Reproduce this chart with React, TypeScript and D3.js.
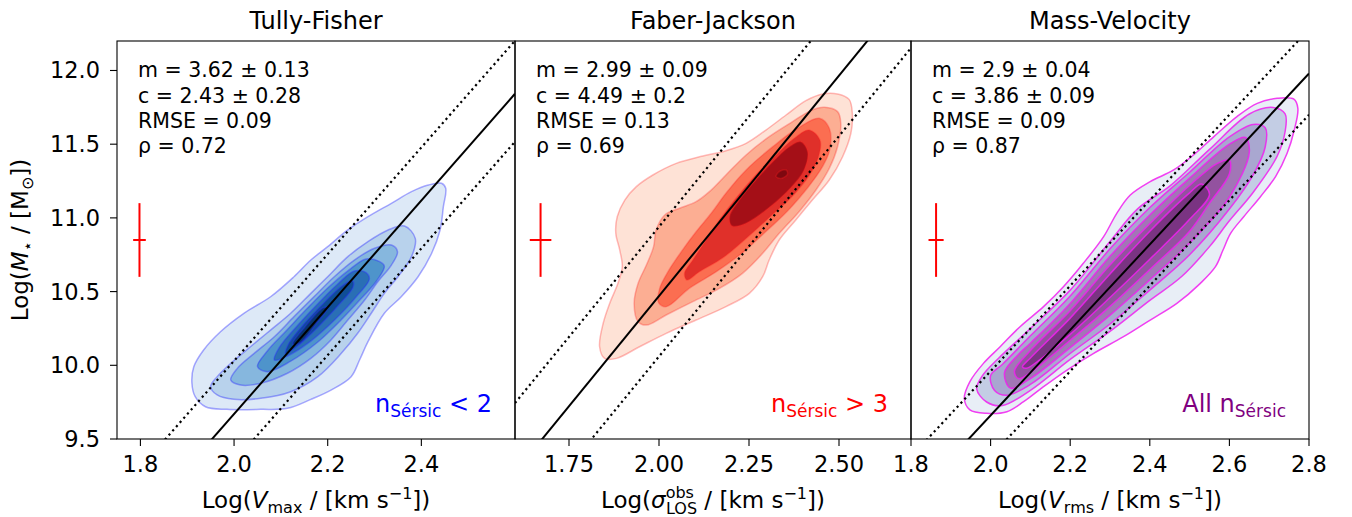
import React from 'react';
import * as d3 from 'd3';

// ---------------- data ----------------
const panelTitles = ['Tully-Fisher', 'Faber-Jackson', 'Mass-Velocity'];
const xDomains: [number, number][] = [[1.75, 2.6], [1.6, 2.7], [1.8, 2.8]];
const yDomain: [number, number] = [9.5, 12.2];
const xTickValues = [[1.8, 2.0, 2.2, 2.4], [1.75, 2.0, 2.25, 2.5], [1.8, 2.0, 2.2, 2.4, 2.6, 2.8]];
const xTickFormats = ['.1f', '.2f', '.1f'];
const yTickValues = [9.5, 10.0, 10.5, 11.0, 11.5, 12.0];

const fitSlopes = [3.62, 2.99, 2.9];
const fitIntercepts = [2.43, 4.49, 3.86];
const scatterUpper = [0.36, 0.47, 0.3];
const scatterLower = [-0.325, -0.41, -0.28];

const statsText = [
  ['m = 3.62 ± 0.13', 'c = 2.43 ± 0.28', 'RMSE = 0.09', 'ρ = 0.72'],
  ['m = 2.99 ± 0.09', 'c = 4.49 ± 0.2', 'RMSE = 0.13', 'ρ = 0.69'],
  ['m = 2.9 ± 0.04', 'c = 3.86 ± 0.09', 'RMSE = 0.09', 'ρ = 0.87'],
];

const errCentreX = [1.798, 1.671, 1.863];
const errCentreY = [10.85, 10.85, 10.85];
const errHalfX = [0.0135, 0.03, 0.019];
const errHalfY = [0.25, 0.25, 0.25];

const sampleLabelPrefix = ['', '', 'All '];
const sampleLabelSuffix = [' < 2', ' > 3', ''];
const sampleLabelColors = ['#0000ff', '#ff0000', '#800080'];

// KDE contour rings (outer -> inner), [log v, log M*]
const tfContours: number[][][] = [
  [[1.910, 9.878], [1.917, 9.787], [1.939, 9.719], [1.985, 9.701], [2.057, 9.701], [2.114, 9.708], [2.164, 9.769], [2.207, 9.832], [2.250, 9.923], [2.268, 10.036], [2.286, 10.160], [2.321, 10.353], [2.357, 10.465], [2.393, 10.601], [2.422, 10.760], [2.440, 10.918], [2.447, 11.076], [2.452, 11.201], [2.443, 11.235], [2.415, 11.223], [2.379, 11.178], [2.336, 11.099], [2.286, 11.008], [2.243, 10.918], [2.200, 10.805], [2.164, 10.714], [2.128, 10.601], [2.078, 10.465], [2.021, 10.353], [1.971, 10.228], [1.935, 10.104], [1.914, 9.990]],
  [[2.364, 10.945], [2.387, 10.861], [2.379, 10.737], [2.350, 10.601], [2.321, 10.488], [2.293, 10.353], [2.264, 10.217], [2.229, 10.081], [2.179, 9.923], [2.121, 9.821], [2.057, 9.776], [2.000, 9.769], [1.964, 9.799], [1.950, 9.855], [1.964, 9.923], [1.993, 10.013], [2.035, 10.126], [2.078, 10.239], [2.121, 10.353], [2.164, 10.488], [2.200, 10.601], [2.243, 10.737], [2.286, 10.839], [2.329, 10.918]],
  [[2.336, 10.816], [2.349, 10.771], [2.336, 10.680], [2.307, 10.567], [2.279, 10.443], [2.243, 10.307], [2.207, 10.172], [2.164, 10.047], [2.114, 9.946], [2.057, 9.878], [2.014, 9.866], [1.993, 9.900], [2.007, 9.979], [2.043, 10.081], [2.086, 10.194], [2.128, 10.330], [2.171, 10.466], [2.214, 10.601], [2.257, 10.714], [2.300, 10.794]],
  [[2.311, 10.703], [2.321, 10.672], [2.304, 10.570], [2.271, 10.451], [2.229, 10.309], [2.179, 10.158], [2.121, 10.028], [2.071, 9.957], [2.050, 9.991], [2.071, 10.097], [2.114, 10.243], [2.157, 10.388], [2.200, 10.524], [2.243, 10.640], [2.282, 10.721]],
  [[2.282, 10.628], [2.289, 10.586], [2.261, 10.465], [2.214, 10.305], [2.164, 10.164], [2.114, 10.063], [2.086, 10.036], [2.096, 10.118], [2.136, 10.272], [2.179, 10.418], [2.221, 10.550], [2.257, 10.640]],
  [[2.254, 10.569], [2.254, 10.529], [2.221, 10.400], [2.179, 10.258], [2.136, 10.132], [2.110, 10.078], [2.115, 10.136], [2.150, 10.283], [2.190, 10.418], [2.225, 10.525], [2.245, 10.567]],
  [[2.125, 10.145], [2.150, 10.255], [2.190, 10.390], [2.200, 10.390], [2.175, 10.280], [2.140, 10.150]],
];
const fjContours: number[][][] = [
  [[2.454, 11.841], [2.496, 11.841], [2.528, 11.804], [2.537, 11.709], [2.533, 11.574], [2.510, 11.415], [2.473, 11.257], [2.426, 11.121], [2.380, 10.986], [2.334, 10.850], [2.306, 10.714], [2.288, 10.601], [2.251, 10.488], [2.186, 10.398], [2.103, 10.307], [2.020, 10.217], [1.946, 10.126], [1.882, 10.047], [1.849, 10.047], [1.835, 10.126], [1.845, 10.285], [1.863, 10.420], [1.886, 10.556], [1.898, 10.669], [1.891, 10.782], [1.880, 10.895], [1.884, 11.008], [1.905, 11.121], [1.937, 11.212], [1.983, 11.291], [2.048, 11.370], [2.122, 11.420], [2.186, 11.456], [2.242, 11.506], [2.297, 11.596], [2.353, 11.698], [2.408, 11.795]],
  [[2.459, 11.750], [2.496, 11.721], [2.505, 11.642], [2.496, 11.483], [2.473, 11.336], [2.436, 11.189], [2.389, 11.042], [2.334, 10.895], [2.288, 10.760], [2.232, 10.624], [2.168, 10.522], [2.094, 10.432], [2.020, 10.341], [1.965, 10.273], [1.942, 10.296], [1.931, 10.420], [1.942, 10.556], [1.965, 10.680], [1.985, 10.805], [1.992, 10.918], [2.016, 11.020], [2.057, 11.065], [2.103, 11.110], [2.140, 11.178], [2.186, 11.291], [2.242, 11.427], [2.306, 11.551], [2.371, 11.653], [2.422, 11.728]],
  [[2.445, 11.676], [2.473, 11.608], [2.474, 11.461], [2.454, 11.347], [2.413, 11.205], [2.357, 11.047], [2.297, 10.908], [2.232, 10.764], [2.159, 10.635], [2.085, 10.524], [2.020, 10.398], [1.999, 10.425], [2.002, 10.522], [2.025, 10.635], [2.062, 10.771], [2.103, 10.906], [2.145, 11.031], [2.186, 11.167], [2.242, 11.325], [2.316, 11.483], [2.385, 11.608]],
  [[2.417, 11.596], [2.447, 11.528], [2.443, 11.415], [2.417, 11.287], [2.371, 11.149], [2.316, 11.025], [2.251, 10.880], [2.177, 10.729], [2.112, 10.635], [2.077, 10.579], [2.071, 10.624], [2.094, 10.714], [2.131, 10.850], [2.168, 10.986], [2.214, 11.133], [2.269, 11.291], [2.325, 11.427], [2.376, 11.540]],
  [[2.394, 11.517], [2.413, 11.449], [2.403, 11.325], [2.366, 11.204], [2.311, 11.080], [2.242, 10.964], [2.203, 10.945], [2.196, 11.008], [2.223, 11.121], [2.269, 11.257], [2.316, 11.381], [2.362, 11.483]],
  [[2.353, 11.325], [2.357, 11.296], [2.339, 11.268], [2.325, 11.280], [2.334, 11.314]],
];
const mvContours: number[][][] = [
  [[2.720, 11.811], [2.762, 11.805], [2.772, 11.743], [2.763, 11.596], [2.745, 11.438], [2.716, 11.280], [2.678, 11.144], [2.636, 11.008], [2.603, 10.895], [2.584, 10.782], [2.565, 10.669], [2.527, 10.556], [2.468, 10.420], [2.401, 10.307], [2.334, 10.194], [2.259, 10.081], [2.192, 9.968], [2.133, 9.855], [2.083, 9.753], [2.041, 9.685], [1.990, 9.674], [1.948, 9.697], [1.934, 9.776], [1.948, 9.889], [1.982, 10.013], [2.024, 10.126], [2.074, 10.262], [2.133, 10.398], [2.183, 10.533], [2.233, 10.692], [2.284, 10.873], [2.317, 11.031], [2.351, 11.155], [2.401, 11.246], [2.460, 11.325], [2.510, 11.427], [2.561, 11.551], [2.619, 11.687], [2.670, 11.777]],
  [[1.965, 9.84], [1.98, 9.932], [2.02, 10.048], [2.1, 10.25], [2.2, 10.51], [2.3, 10.84], [2.37, 11.063], [2.45, 11.215], [2.55, 11.465], [2.65, 11.705], [2.71, 11.749], [2.74, 11.706], [2.74, 11.586], [2.72, 11.418], [2.66, 11.174], [2.6, 10.98], [2.55, 10.805], [2.48, 10.602], [2.4, 10.44], [2.3, 10.23], [2.2, 10.04], [2.1, 9.83], [2.03, 9.727], [1.99, 9.751]],
  [[2.0, 9.93], [2.03, 10.007], [2.1, 10.2], [2.2, 10.47], [2.3, 10.79], [2.4, 11.07], [2.5, 11.31], [2.6, 11.55], [2.66, 11.634], [2.69, 11.611], [2.69, 11.481], [2.66, 11.294], [2.6, 11.06], [2.5, 10.75], [2.4, 10.51], [2.3, 10.28], [2.2, 10.08], [2.1, 9.87], [2.04, 9.796], [2.01, 9.829]],
  [[2.035, 9.95], [2.07, 10.073], [2.1, 10.15], [2.2, 10.42], [2.3, 10.74], [2.4, 11.02], [2.5, 11.27], [2.6, 11.5], [2.64, 11.546], [2.65, 11.445], [2.6, 11.14], [2.5, 10.83], [2.4, 10.58], [2.3, 10.34], [2.2, 10.12], [2.1, 9.91], [2.05, 9.845]],
  [[2.06, 9.96], [2.1, 10.1], [2.2, 10.37], [2.3, 10.68], [2.4, 10.96], [2.5, 11.22], [2.57, 11.37], [2.6, 11.39], [2.6, 11.3], [2.55, 11.1], [2.5, 10.91], [2.4, 10.65], [2.3, 10.4], [2.2, 10.17], [2.1, 9.95], [2.07, 9.91]],
  [[2.08, 9.99], [2.1, 10.05], [2.2, 10.32], [2.3, 10.62], [2.4, 10.91], [2.5, 11.17], [2.53, 11.23], [2.55, 11.16], [2.5, 10.99], [2.4, 10.72], [2.3, 10.46], [2.2, 10.21], [2.12, 10.03], [2.09, 9.98]],
];
const panelContours = [tfContours, fjContours, mvContours];

const tfFills = ['#dde9f7', '#b8d2ec', '#86b7de', '#4e94cb', '#2a6fb5', '#0f4e96', '#08346e'];
const fjFills = ['#fee2d6', '#fcae93', '#fb6e51', '#e0302a', '#a40f17', '#7e0810'];
const mvFills = ['#e8eef6', '#c3cde4', '#a9a7d0', '#a276b6', '#93529f', '#7a3482'];
const panelFills = [tfFills, fjFills, mvFills];
const outlineColors = ['#2a2aff', '#ff2020', '#f020f0'];
const outlineOpacity = [0.4, 0.3, 0.85];

// ---------------- layout ----------------
const W = 1352;
const H = 517;
const TOP = 41;
const BOTTOM = 439;
const LEFTS = [117, 515, 911];
const RIGHTS = [515, 911, 1309];
const FONT = 'DejaVu Sans, Verdana, sans-serif';

export default function App() {
  const y = d3.scaleLinear().domain(yDomain).range([BOTTOM, TOP]);

  const panels = [0, 1, 2].map((i) => {
    const x = d3.scaleLinear().domain(xDomains[i]).range([LEFTS[i], RIGHTS[i]]);
    const ring = d3
      .line<number[]>()
      .x((d) => x(d[0]))
      .y((d) => y(d[1]))
      .curve(d3.curveCatmullRomClosed.alpha(0.5));
    const fitLine = d3
      .line<number>()
      .x((d) => x(d))
      .y((d) => y(fitSlopes[i] * d + fitIntercepts[i]));
    const upLine = d3
      .line<number>()
      .x((d) => x(d))
      .y((d) => y(fitSlopes[i] * d + fitIntercepts[i] + scatterUpper[i]));
    const lowLine = d3
      .line<number>()
      .x((d) => x(d))
      .y((d) => y(fitSlopes[i] * d + fitIntercepts[i] + scatterLower[i]));
    const fmt = d3.format(xTickFormats[i]);
    const clipId = `clip${i}`;
    const cx = x(errCentreX[i]);
    const cy = y(errCentreY[i]);
    return (
      <g key={i}>
        <defs>
          <clipPath id={clipId}>
            <rect x={LEFTS[i]} y={TOP} width={RIGHTS[i] - LEFTS[i]} height={BOTTOM - TOP} />
          </clipPath>
        </defs>
        <g clipPath={`url(#${clipId})`}>
          {panelContours[i].map((r, k) => (
            <path
              key={k}
              d={ring(r) || ''}
              fill={panelFills[i][k]}
              stroke={outlineColors[i]}
              strokeOpacity={outlineOpacity[i]}
              strokeWidth={1.5}
            />
          ))}
          <path d={upLine(xDomains[i]) || ''} stroke="#000" strokeWidth={2.2} strokeDasharray="2.2 3.4" fill="none" />
          <path d={lowLine(xDomains[i]) || ''} stroke="#000" strokeWidth={2.2} strokeDasharray="2.2 3.4" fill="none" />
          <path d={fitLine(xDomains[i]) || ''} stroke="#000" strokeWidth={2} fill="none" />
          <line x1={cx} x2={cx} y1={y(errCentreY[i] - errHalfY[i])} y2={y(errCentreY[i] + errHalfY[i])} stroke="#ff0000" strokeWidth={2} />
          <line x1={x(errCentreX[i] - errHalfX[i])} x2={x(errCentreX[i] + errHalfX[i])} y1={cy} y2={cy} stroke="#ff0000" strokeWidth={2} />
        </g>
        <rect x={LEFTS[i]} y={TOP} width={RIGHTS[i] - LEFTS[i]} height={BOTTOM - TOP} fill="none" stroke="#000" strokeWidth={1.1} />
        {xTickValues[i].map((t) => (
          <g key={t}>
            <line x1={x(t)} x2={x(t)} y1={BOTTOM} y2={BOTTOM + 7} stroke="#000" strokeWidth={1.1} />
            <text x={x(t)} y={472} textAnchor="middle" fontSize={22.5} fill="#000">
              {fmt(t)}
            </text>
          </g>
        ))}
        <text x={(LEFTS[i] + RIGHTS[i]) / 2} y={28.5} textAnchor="middle" fontSize={24} fill="#000">
          {panelTitles[i]}
        </text>
        {statsText[i].map((s, k) => (
          <text key={k} x={LEFTS[i] + 21} y={77.3 + k * 25.3} fontSize={20.5} fill="#000">
            {s}
          </text>
        ))}
        <text x={RIGHTS[i] - 23} y={411.5} textAnchor="end" fontSize={24} fill={sampleLabelColors[i]}>
          {sampleLabelPrefix[i]}n
          <tspan fontSize={17} dy={5}>Sérsic</tspan>
          <tspan dy={-5}>{sampleLabelSuffix[i]}</tspan>
        </text>
      </g>
    );
  });

  return (
    <svg
      width={W}
      height={H}
      style={{ position: 'absolute', left: 0, top: 0, background: '#fff' }}
      fontFamily={FONT}
    >
      <rect x={0} y={0} width={W} height={H} fill="#fff" />
      {panels}
      {yTickValues.map((t) => (
        <g key={t}>
          <line x1={LEFTS[0] - 7} x2={LEFTS[0]} y1={y(t)} y2={y(t)} stroke="#000" strokeWidth={1.1} />
          <text x={100} y={y(t) + 8} textAnchor="end" fontSize={22.5} fill="#000">
            {t.toFixed(1)}
          </text>
        </g>
      ))}
      <text transform={`translate(28, ${(TOP + BOTTOM) / 2}) rotate(-90)`} textAnchor="middle" fontSize={23} fill="#000">
        Log(
        <tspan fontStyle="italic">M</tspan>
        <tspan fontSize={16} dy={5}>⋆</tspan>
        <tspan dy={-5}> / [M</tspan>
        <tspan fontSize={16} dy={5}>⊙</tspan>
        <tspan dy={-5}>])</tspan>
      </text>
      <text x={(LEFTS[0] + RIGHTS[0]) / 2} y={508} textAnchor="middle" fontSize={23} fill="#000">
        Log(
        <tspan fontStyle="italic">V</tspan>
        <tspan fontSize={16} dy={5}>max</tspan>
        <tspan dy={-5}> / [km s</tspan>
        <tspan fontSize={16} dy={-9}>−1</tspan>
        <tspan dy={9}>])</tspan>
      </text>
      <text x={(LEFTS[1] + RIGHTS[1]) / 2} y={508} textAnchor="middle" fontSize={23} fill="#000">
        Log(
        <tspan fontStyle="italic">σ</tspan>
        <tspan fontSize={16} dy={-10}>obs</tspan>
        <tspan fontSize={16} dx={-28} dy={16}>LOS</tspan>
        <tspan dy={-6}> / [km s</tspan>
        <tspan fontSize={16} dy={-9}>−1</tspan>
        <tspan dy={9}>])</tspan>
      </text>
      <text x={(LEFTS[2] + RIGHTS[2]) / 2} y={508} textAnchor="middle" fontSize={23} fill="#000">
        Log(
        <tspan fontStyle="italic">V</tspan>
        <tspan fontSize={16} dy={5}>rms</tspan>
        <tspan dy={-5}> / [km s</tspan>
        <tspan fontSize={16} dy={-9}>−1</tspan>
        <tspan dy={9}>])</tspan>
      </text>
    </svg>
  );
}
